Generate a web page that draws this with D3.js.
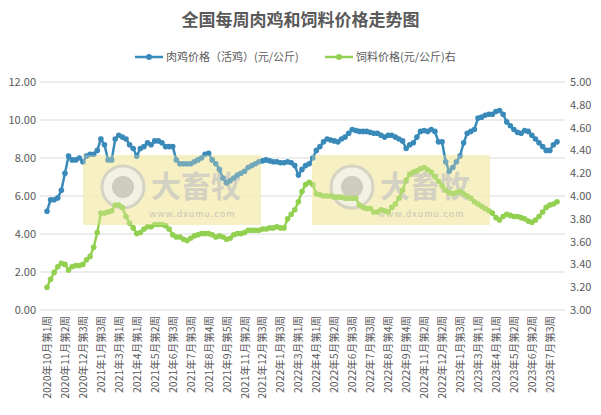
<!DOCTYPE html>
<html><head><meta charset="utf-8">
<script src="https://cdn.jsdelivr.net/npm/d3@7"></script>
<style>body{margin:0;background:#fff;font-family:"Noto Sans CJK SC","Noto Sans",sans-serif;}</style>
</head><body><div id="chart"></div>
<script>
var tickLabels = ["2020年10月第1周","2020年11月第2周","2020年12月第3周","2021年1月第3周","2021年3月第1周","2021年4月第1周","2021年5月第2周","2021年6月第3周","2021年7月第3周","2021年8月第4周","2021年9月第5周","2021年11月第2周","2021年12月第3周","2022年1月第3周","2022年3月第1周","2022年4月第1周","2022年5月第2周","2022年6月第3周","2022年7月第3周","2022年8月第4周","2022年9月第4周","2022年11月第2周","2022年12月第2周","2023年1月第3周","2023年3月第1周","2023年4月第1周","2023年5月第2周","2023年6月第2周","2023年7月第3周"];

var chicken = [5.2,5.8,5.8,5.9,6.3,7.2,8.1,7.9,7.9,8.0,7.8,8.1,8.2,8.2,8.4,9.0,8.7,7.9,7.9,9.0,
9.2,9.1,9.0,8.7,8.5,8.1,8.5,8.6,8.8,8.7,8.9,8.9,8.8,8.6,8.6,8.6,7.9,7.7,7.7,7.7,
7.7,7.8,7.9,8.0,8.2,8.25,7.9,7.7,7.4,6.95,6.7,6.8,6.95,7.1,7.2,7.3,7.5,7.6,7.7,7.8,
7.85,7.9,7.85,7.8,7.8,7.75,7.75,7.8,7.75,7.6,7.1,7.4,7.6,7.7,8.0,8.4,8.6,8.85,9.0,8.95,
8.9,8.85,9.0,9.1,9.3,9.5,9.45,9.4,9.4,9.4,9.35,9.3,9.3,9.2,9.1,9.2,9.2,9.1,9.0,8.9,
8.5,8.7,8.8,9.1,9.4,9.45,9.4,9.5,9.4,8.85,8.85,7.8,7.3,7.5,7.8,8.1,8.8,9.3,9.4,9.5,
10.1,10.15,10.25,10.3,10.3,10.45,10.5,10.3,9.9,9.7,9.5,9.35,9.3,9.45,9.4,9.2,9.0,8.8,8.6,8.4,
8.4,8.7,8.85];

var feed = [3.2,3.27,3.33,3.38,3.41,3.40,3.35,3.38,3.39,3.39,3.40,3.44,3.47,3.55,3.68,3.85,3.85,3.86,3.87,3.92,
3.92,3.90,3.82,3.76,3.72,3.67,3.68,3.71,3.73,3.73,3.75,3.75,3.75,3.74,3.71,3.66,3.64,3.64,3.62,3.61,
3.63,3.65,3.66,3.67,3.67,3.67,3.66,3.64,3.65,3.64,3.62,3.63,3.66,3.67,3.67,3.68,3.70,3.70,3.70,3.70,
3.71,3.71,3.72,3.72,3.73,3.72,3.72,3.80,3.84,3.88,3.95,4.04,4.10,4.12,4.10,4.02,4.01,4.00,4.00,4.00,
3.99,3.99,3.99,3.98,3.98,3.98,3.98,3.92,3.90,3.89,3.89,3.86,3.86,3.88,3.87,3.86,3.90,3.93,3.98,4.05,
4.14,4.19,4.21,4.22,4.24,4.25,4.23,4.21,4.17,4.13,4.09,4.05,4.03,4.02,4.03,4.04,4.02,4.00,3.98,3.95,
3.93,3.91,3.89,3.87,3.85,3.81,3.79,3.82,3.84,3.83,3.82,3.82,3.81,3.80,3.78,3.77,3.79,3.82,3.86,3.90,
3.92,3.93,3.95];

var leftTicks = [0,2,4,6,8,10,12];
var rightTicks = [3.0,3.2,3.4,3.6,3.8,4.0,4.2,4.4,4.6,4.8,5.0];
var blue = "#3a8ab9", green = "#92d050", grey = "#595959";

var W = 601, H = 415;
var svg = d3.select("#chart").append("svg").attr("width", W).attr("height", H);

var idx = d3.range(chicken.length);
var x = d3.scalePoint().domain(idx).range([47, 557]);
var yL = d3.scaleLinear().domain([0, 12]).range([310, 82]);
var yR = d3.scaleLinear().domain([3, 5]).range([310, 82]);

// gridlines
svg.append("g").selectAll("line").data(leftTicks).enter().append("line")
  .attr("x1", 40).attr("x2", 565)
  .attr("y1", function (d) { return yL(d); }).attr("y2", function (d) { return yL(d); })
  .attr("stroke", "#d9d9d9").attr("stroke-width", 1);

// watermarks
[[83, 155], [312, 155]].forEach(function (p) {
  var g = svg.append("g").attr("transform", "translate(" + p[0] + "," + p[1] + ")");
  g.append("rect").attr("width", 178).attr("height", 70).attr("fill", "#f5eeb8").attr("opacity", 0.8);
  g.append("circle").attr("cx", 40).attr("cy", 32).attr("r", 21).attr("fill", "#f2f2f2").attr("stroke", "#c8c8c8").attr("stroke-width", 3);
  g.append("circle").attr("cx", 40).attr("cy", 32).attr("r", 11).attr("fill", "#bdbdbd");
  g.append("text").attr("x", 68).attr("y", 42).attr("font-size", 30).attr("font-weight", "bold")
    .attr("fill", "#c4c4c4").text("大畜牧");
  g.append("text").attr("x", 66).attr("y", 62).attr("font-size", 9).attr("fill", "#b5b5b5")
    .attr("letter-spacing", 1).text("www.dxumu.com");
});

// axes labels
svg.append("g").selectAll("text").data(leftTicks).enter().append("text")
  .attr("x", 36).attr("y", function (d) { return yL(d) + 4; })
  .attr("text-anchor", "end").attr("font-size", 11).attr("fill", grey)
  .text(function (d) { return d.toFixed(2); });
svg.append("g").selectAll("text").data(rightTicks).enter().append("text")
  .attr("x", 570).attr("y", function (d) { return yR(d) + 4; })
  .attr("font-size", 11).attr("fill", grey)
  .text(function (d) { return d.toFixed(2); });
svg.append("g").selectAll("text").data(tickLabels).enter().append("text")
  .attr("transform", function (d, i) { return "translate(" + (x(i * 5) + 4) + ",316) rotate(-90)"; })
  .attr("text-anchor", "end").attr("font-size", 10.5).attr("fill", grey)
  .text(function (d) { return d; });

function series(data, y, color) {
  var line = d3.line().x(function (d, i) { return x(i); }).y(function (d) { return y(d); });
  svg.append("path").datum(data).attr("d", line).attr("fill", "none")
    .attr("stroke", color).attr("stroke-width", 2.5);
  svg.append("g").selectAll("circle").data(data).enter().append("circle")
    .attr("cx", function (d, i) { return x(i); }).attr("cy", function (d) { return y(d); })
    .attr("r", 2.8).attr("fill", color);
}
series(feed, yR, green);
series(chicken, yL, blue);

// watermark tint over lines
[[83, 155], [312, 155]].forEach(function (p) {
  svg.append("rect").attr("x", p[0]).attr("y", p[1]).attr("width", 178).attr("height", 70)
    .attr("fill", "#f5eeb8").attr("opacity", 0.3);
});

// title
svg.append("text").attr("x", W / 2).attr("y", 26).attr("text-anchor", "middle")
  .attr("font-size", 17).attr("font-weight", "bold").attr("fill", grey)
  .text("全国每周肉鸡和饲料价格走势图");

// legend
function legend(x0, color, label) {
  svg.append("line").attr("x1", x0).attr("x2", x0 + 28).attr("y1", 57).attr("y2", 57)
    .attr("stroke", color).attr("stroke-width", 2.5);
  svg.append("circle").attr("cx", x0 + 14).attr("cy", 57).attr("r", 3).attr("fill", color);
  svg.append("text").attr("x", x0 + 31).attr("y", 61).attr("font-size", 11).attr("fill", grey).text(label);
}
legend(135, blue, "肉鸡价格（活鸡）(元/公斤)");
legend(325, green, "饲料价格(元/公斤)右");
</script></body></html>
